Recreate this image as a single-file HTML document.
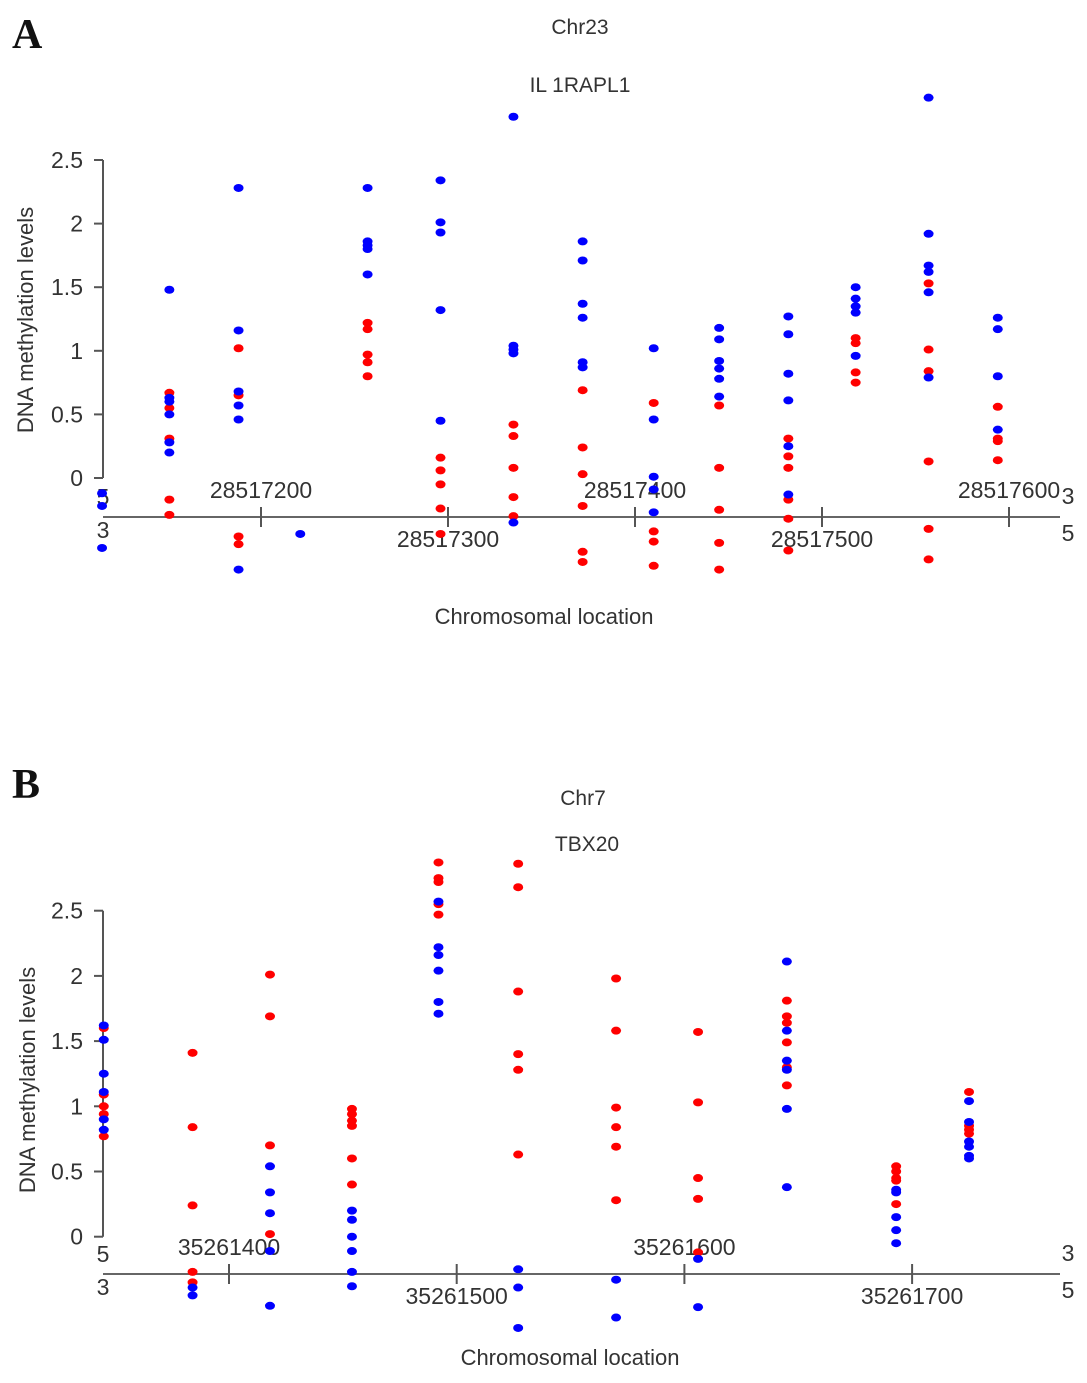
<!DOCTYPE html>
<html><head><meta charset="utf-8"><style>
html,body{margin:0;padding:0;background:#fff}
svg text{font-family:"Liberation Sans",Arial,sans-serif;fill:#333}
</style></head><body>
<svg id="chart" width="1087" height="1378" xmlns="http://www.w3.org/2000/svg">
<text x="12" y="48" style="font-family:'Liberation Serif',serif;font-weight:bold;font-size:42px;fill:#111">A</text>
<text x="580" y="34" text-anchor="middle" font-size="21">Chr23</text>
<text x="580" y="92" text-anchor="middle" font-size="21">IL 1RAPL1</text>
<text x="544" y="624" text-anchor="middle" font-size="22">Chromosomal location</text>
<text transform="translate(33,320) rotate(-90)" text-anchor="middle" font-size="22">DNA methylation levels</text>
<text x="12" y="798" style="font-family:'Liberation Serif',serif;font-weight:bold;font-size:42px;fill:#111">B</text>
<text x="583" y="805" text-anchor="middle" font-size="21">Chr7</text>
<text x="587" y="851" text-anchor="middle" font-size="21">TBX20</text>
<text x="570" y="1365" text-anchor="middle" font-size="22">Chromosomal location</text>
<text transform="translate(35,1080) rotate(-90)" text-anchor="middle" font-size="22">DNA methylation levels</text>
</svg>
<script>
// Panel A data
const aPositions = [28517115,28517151,28517188,28517221,28517257,28517296,28517335,28517372,28517410,28517445,28517482,28517518,28517557,28517594];
const aBlue = [
 [-0.12,-0.22,-0.55],
 [1.48,0.63,0.60,0.50,0.28,0.20],
 [2.28,1.16,0.68,0.57,0.46,-0.72],
 [-0.44],
 [2.28,1.86,1.83,1.80,1.60],
 [2.34,2.01,1.93,1.32,0.45],
 [2.84,1.04,1.01,0.98,-0.35],
 [1.86,1.71,1.37,1.26,0.91,0.87],
 [1.02,0.46,0.01,-0.09,-0.27],
 [1.18,1.09,0.92,0.86,0.78,0.64],
 [1.27,1.13,0.82,0.61,0.25,-0.13],
 [1.50,1.41,1.35,1.30,0.96],
 [2.99,1.92,1.67,1.62,1.46,0.79],
 [1.26,1.17,0.80,0.38]
];
const aRed = [
 [],
 [0.67,0.55,0.31,-0.17,-0.29],
 [1.02,0.65,-0.46,-0.52],
 [],
 [1.22,1.17,0.97,0.91,0.80],
 [0.16,0.06,-0.05,-0.24,-0.44],
 [0.42,0.33,0.08,-0.15,-0.30],
 [0.69,0.24,0.03,-0.22,-0.58,-0.66],
 [0.59,-0.42,-0.50,-0.69],
 [0.57,0.08,-0.25,-0.51,-0.72],
 [0.31,0.17,0.08,-0.17,-0.32,-0.57],
 [1.10,1.06,0.83,0.75],
 [1.53,1.01,0.84,0.13,-0.40,-0.64],
 [0.56,0.31,0.29,0.14]
];
const aYTicks = [0,0.5,1,1.5,2,2.5];
const aYTickLabels = ["0","0.5","1","1.5","2","2.5"];
const aXTicks = [28517200,28517300,28517400,28517500,28517600];
const aXTickLabels = ["28517200","28517300","28517400","28517500","28517600"];

// Panel B data
const bPositions = [35261345,35261384,35261418,35261454,35261492,35261527,35261570,35261606,35261645,35261693,35261725];
const bBlue = [
 [1.62,1.51,1.25,1.11,0.90,0.82],
 [-0.39,-0.45],
 [0.54,0.34,0.18,-0.11,-0.53],
 [0.20,0.13,0.00,-0.11,-0.27,-0.38],
 [2.57,2.22,2.16,2.04,1.80,1.71],
 [-0.25,-0.39,-0.70],
 [-0.33,-0.62],
 [-0.17,-0.54],
 [2.11,1.58,1.35,1.28,0.98,0.38],
 [0.36,0.34,0.15,0.05,-0.05],
 [1.04,0.88,0.73,0.69,0.62,0.60]
];
const bRed = [
 [1.60,1.09,1.00,0.94,0.77],
 [1.41,0.84,0.24,-0.27,-0.35],
 [2.01,1.69,0.70,0.02],
 [0.98,0.94,0.89,0.85,0.60,0.40],
 [2.87,2.75,2.72,2.55,2.47],
 [2.86,2.68,1.88,1.40,1.28,0.63],
 [1.98,1.58,0.99,0.84,0.69,0.28],
 [1.57,1.03,0.45,0.29,-0.12],
 [1.81,1.69,1.64,1.49,1.30,1.16],
 [0.54,0.50,0.45,0.43,0.25],
 [1.11,0.85,0.82,0.79]
];
const bYTicks = [0,0.5,1,1.5,2,2.5];
const bYTickLabels = ["0","0.5","1","1.5","2","2.5"];
const bXTicks = [35261400,35261500,35261600,35261700];
const bXTickLabels = ["35261400","35261500","35261600","35261700"];

const svg = document.getElementById('chart');
const NS = 'http://www.w3.org/2000/svg';
function mk(tag, attrs){ const e=document.createElementNS(NS,tag); for(const k in attrs) e.setAttribute(k,attrs[k]); svg.appendChild(e); return e; }

function drawPanel(p, cfg){
  const yS = v => cfg.y0 - v*cfg.yPer;
  const xS = pos => cfg.xRef + (pos - cfg.xRefPos)*cfg.xPer;
  // y axis
  let ax = mk('line',{x1:cfg.axX,y1:yS(2.5),x2:cfg.axX,y2:yS(0),stroke:'#555','stroke-width':2});
  
  
  cfg.yTicks.forEach((t,i)=>{
    const tk = mk('line',{x1:cfg.axX-9,y1:yS(t),x2:cfg.axX,y2:yS(t),stroke:'#555','stroke-width':2});
    
    
    const tl = mk('text',{x:cfg.axX-20,y:yS(t)+8,'text-anchor':'end','font-size':23});
    tl.textContent = cfg.yLabels[i];
    
    
  });
  // chromosome axis
  const cl = mk('line',{x1:cfg.axX,y1:cfg.cy,x2:cfg.xEnd,y2:cfg.cy,stroke:'#666','stroke-width':2});
  
  
  cfg.xTicks.forEach((t,i)=>{
    const x = xS(t);
    const tk = mk('line',{x1:x,y1:cfg.cy-10,x2:x,y2:cfg.cy+10,stroke:'#555','stroke-width':2});
    
    
    const above = (i%2===0);
    const tl = mk('text',{x:x,y:above?cfg.cy-19:cfg.cy+30,'text-anchor':'middle','font-size':23});
    tl.textContent = cfg.xLabels[i];
    
    
  });
  const ends = [[cfg.axX,cfg.cy-12,cfg.leftTop],[cfg.axX,cfg.cy+21,cfg.leftBot],[cfg.xEnd+8,cfg.cy-13,cfg.rightTop],[cfg.xEnd+8,cfg.cy+24,cfg.rightBot]];
  ends.forEach(e=>{
    const t = mk('text',{x:e[0],y:e[1],'text-anchor':'middle','font-size':23});
    t.textContent = e[2];
    
    
  });
  // points
  const series = [[cfg.red,'#ff0000','red'],[cfg.blue,'#0000ff','blue']];
  series.forEach(s=>{
    s[0].forEach((col,ci)=>{
      col.forEach(v=>{
        const c = mk('ellipse',{cx:xS(cfg.pos[ci]),cy:yS(v),rx:5,ry:4,fill:s[1]});
        
        
      });
    });
  });
}

drawPanel('panel-a',{y0:478,yPer:127.2,axX:103,cy:517,xEnd:1060,xRef:261,xRefPos:28517200,xPer:1.87,
  yTicks:aYTicks,yLabels:aYTickLabels,xTicks:aXTicks,xLabels:aXTickLabels,pos:aPositions,blue:aBlue,red:aRed,
  leftTop:'5',leftBot:'3',rightTop:'3',rightBot:'5'});
drawPanel('panel-b',{y0:1236.7,yPer:130.4,axX:103,cy:1274,xEnd:1060,xRef:229,xRefPos:35261400,xPer:2.277,
  yTicks:bYTicks,yLabels:bYTickLabels,xTicks:bXTicks,xLabels:bXTickLabels,pos:bPositions,blue:bBlue,red:bRed,
  leftTop:'5',leftBot:'3',rightTop:'3',rightBot:'5'});
</script>
</body></html>
